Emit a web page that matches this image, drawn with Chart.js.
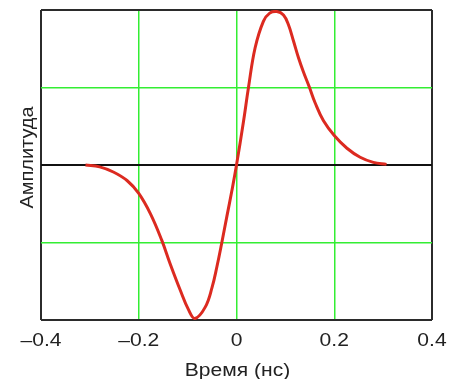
<!DOCTYPE html>
<html>
<head>
<meta charset="utf-8">
<script src="https://cdn.jsdelivr.net/npm/chart.js@4"></script>
<style>
html,body{margin:0;padding:0;background:#fff;}
#wrap{width:450px;height:379px;}
</style>
</head>
<body>
<div id="wrap"><canvas id="c" width="450" height="379"></canvas></div>
<script>
// Data
const timeNs = [-0.309,-0.28,-0.252,-0.224,-0.200,-0.176,-0.153,-0.136,-0.115,-0.098,-0.085,-0.064,-0.050,-0.040,-0.030,-0.0196,-0.0094,0,0.0143,0.0245,0.038,0.055,0.068,0.0826,0.0961,0.1063,0.1166,0.127,0.137,0.149,0.161,0.178,0.200,0.226,0.253,0.280,0.307];
const amplitude = [0,-0.012,-0.045,-0.1,-0.183,-0.315,-0.485,-0.635,-0.808,-0.935,-0.99,-0.917,-0.79,-0.655,-0.50,-0.33,-0.165,0,0.28,0.5,0.755,0.927,0.98,0.99,0.968,0.905,0.8,0.69,0.60,0.503,0.40,0.285,0.19,0.108,0.05,0.017,0.004];
const xTicks = [-0.4,-0.2,0,0.2,0.4];
const xTickLabels = ['–0.4','–0.2','0','0.2','0.4'];
const yGridValues = [-1,-0.5,0,0.5,1];
const xTitle = 'Время (нс)';
const yTitle = 'Амплитуда';

const points = timeNs.map((t,i)=>({x:t,y:amplitude[i]}));
const GREEN = '#33ee33', FRAME = '#2b2b2b';
const FONT = '18px "Liberation Sans", Arial, sans-serif';

// Draws the axis texts slightly widened, like the reference
const textPlugin = {
  id: 'wideText',
  afterDraw(chart) {
    const ctx = chart.ctx, xs = chart.scales.x, a = chart.chartArea;
    ctx.save();
    ctx.font = FONT;
    ctx.fillStyle = '#222';
    ctx.textAlign = 'center';
    ctx.textBaseline = 'alphabetic';
    xTicks.forEach((v, i) => {
      ctx.save();
      ctx.translate(xs.getPixelForValue(v), a.bottom + 25.5);
      ctx.scale(1.17, 1);
      ctx.fillText(xTickLabels[i], 0, 0);
      ctx.restore();
    });
    ctx.save();
    ctx.translate((a.left + a.right) / 2 + 1, a.bottom + 55.5);
    ctx.scale(1.17, 1);
    ctx.fillText(xTitle, 0, 0);
    ctx.restore();
    ctx.save();
    ctx.translate(a.left - 8, (a.top + a.bottom) / 2 - 7.5);
    ctx.rotate(-Math.PI / 2);
    ctx.scale(1.11, 1);
    ctx.fillText(yTitle, 0, 0);
    ctx.restore();
    ctx.restore();
  }
};

new Chart(document.getElementById('c'), {
  type: 'line',
  data: { datasets: [{
    data: points,
    borderColor: '#dc2a20',
    borderWidth: 3,
    pointRadius: 0,
    tension: 0.4,
    fill: false
  }]},
  plugins: [textPlugin],
  options: {
    responsive: false,
    animation: false,
    devicePixelRatio: 1,
    layout: { padding: { top: 10, right: 18, left: 0, bottom: 0 } },
    plugins: { legend: { display: false }, tooltip: { enabled: false } },
    scales: {
      x: {
        type: 'linear', min: -0.4, max: 0.4,
        afterBuildTicks: s => { s.ticks = xTicks.map(v => ({value: v})); },
        afterFit: s => { s.height = 59; },
        border: { display: false },
        grid: {
          drawTicks: false,
          color: c => (Math.abs(Math.abs(c.tick.value) - 0.4) < 1e-6) ? FRAME : GREEN,
          lineWidth: c => (Math.abs(Math.abs(c.tick.value) - 0.4) < 1e-6) ? 2 : 1.5
        },
        ticks: { display: false }
      },
      y: {
        type: 'linear', min: -1, max: 1,
        afterBuildTicks: s => { s.ticks = yGridValues.map(v => ({value: v})); },
        afterFit: s => { s.width = 41; },
        border: { display: false },
        grid: {
          drawTicks: false,
          color: c => c.tick.value === 0 ? '#111' : (Math.abs(c.tick.value) === 1 ? FRAME : GREEN),
          lineWidth: c => c.tick.value === 0 ? 2 : (Math.abs(c.tick.value) === 1 ? 2 : 1.5)
        },
        ticks: { display: false }
      }
    }
  }
});
</script>
</body>
</html>
